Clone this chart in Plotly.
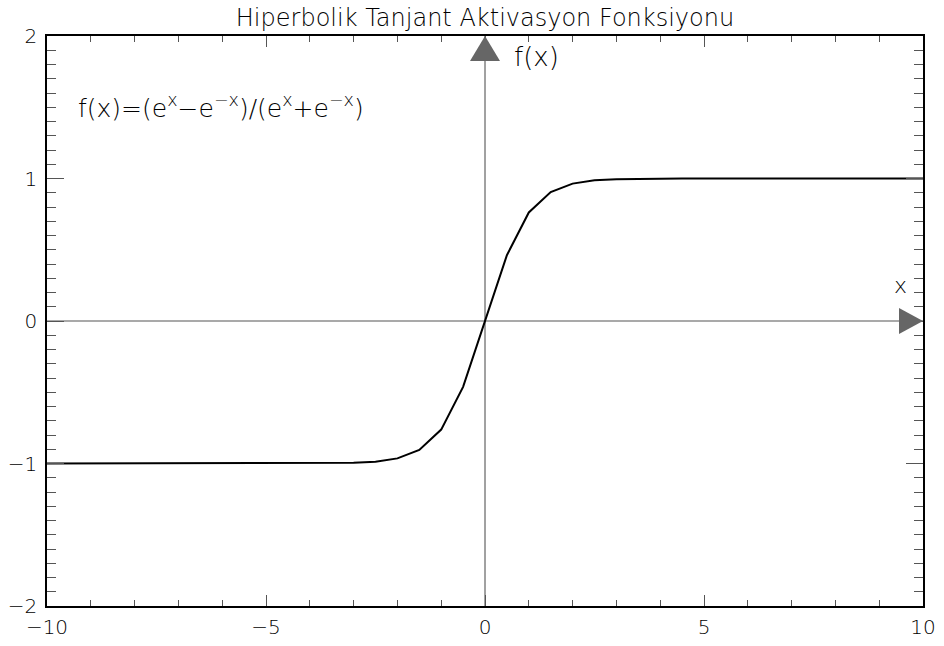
import plotly.graph_objects as go

# Hyperbolic tangent sampled every 0.5 on [-10, 10]
x_vals = [-10.0, -9.5, -9.0, -8.5, -8.0, -7.5, -7.0, -6.5, -6.0, -5.5,
          -5.0, -4.5, -4.0, -3.5, -3.0, -2.5, -2.0, -1.5, -1.0, -0.5,
          0.0, 0.5, 1.0, 1.5, 2.0, 2.5, 3.0, 3.5, 4.0, 4.5,
          5.0, 5.5, 6.0, 6.5, 7.0, 7.5, 8.0, 8.5, 9.0, 9.5, 10.0]
y_vals = [-1.0, -1.0, -1.0, -1.0, -1.0, -1.0, -1.0, -1.0, -1.0, -1.0,
          -1.0, -1.0, -0.999, -0.998, -0.995, -0.987, -0.964, -0.905, -0.762, -0.462,
          0.0, 0.462, 0.762, 0.905, 0.964, 0.987, 0.995, 0.998, 0.999, 1.0,
          1.0, 1.0, 1.0, 1.0, 1.0, 1.0, 1.0, 1.0, 1.0, 1.0, 1.0]

x_ticks = [-10, -5, 0, 5, 10]
y_ticks = [-2, -1, 0, 1, 2]

title_text = "Hiperbolik Tanjant Aktivasyon Fonksiyonu"
formula_text = "f(x)=(e<sup>x</sup>\u2212e<sup>\u2212x</sup>)/(e<sup>x</sup>+e<sup>\u2212x</sup>)"
y_label = "f(x)"
x_label = "x"

FONT = "DejaVu Sans"
WEIGHT = 200
ARROW = "#666666"
TICK = "#555555"

fig = go.Figure()
fig.add_trace(go.Scatter(x=x_vals, y=y_vals, mode="lines",
                         line=dict(color="black", width=2), showlegend=False))

# coordinate axes through the origin
fig.add_shape(type="line", x0=0, x1=0, y0=-2, y1=2, xref="x", yref="y",
              line=dict(color="#444444", width=1), layer="below")
fig.add_shape(type="line", x0=-10, x1=10, y0=0, y1=0, xref="x", yref="y",
              line=dict(color="#555555", width=1.2), layer="below")

# arrow heads at the ends of the axes
fig.add_shape(type="path", xref="x", yref="y", xsizemode="pixel", ysizemode="pixel",
              xanchor=0, yanchor=2, path="M -15 -25 L 15 -25 L 0 0 Z",
              fillcolor=ARROW, line=dict(width=0))
fig.add_shape(type="path", xref="x", yref="y", xsizemode="pixel", ysizemode="pixel",
              xanchor=10, yanchor=0, path="M -24 -13 L -24 13 L 0 0 Z",
              fillcolor=ARROW, line=dict(width=0))

fig.add_annotation(x=0.033, y=0.876, xref="paper", yref="paper", text=formula_text,
                   showarrow=False, xanchor="left", yanchor="middle",
                   font=dict(family=FONT, size=25, color="black", weight=WEIGHT))
fig.add_annotation(x=0.62, y=1.85, xref="x", yref="y", text=y_label, showarrow=False,
                   xanchor="left", yanchor="middle",
                   font=dict(family=FONT, size=26, color="black", weight=WEIGHT))
fig.add_annotation(x=9.49, y=0.25, xref="x", yref="y", text=x_label, showarrow=False,
                   xanchor="center", yanchor="middle",
                   font=dict(family=FONT, size=22, color="black", weight=WEIGHT))

fig.update_layout(
    width=944, height=646,
    margin=dict(l=47, r=21, t=36, b=40),
    paper_bgcolor="white", plot_bgcolor="white",
    title=dict(text=title_text, x=0.5, xref="paper", y=0.973, yanchor="middle",
               automargin=False,
               font=dict(family=FONT, size=24, color="black", weight=WEIGHT)),
    font=dict(family=FONT, size=20, color="black", weight=WEIGHT),
)
fig.update_xaxes(range=[-10, 10], tickvals=x_ticks, ticks="inside", ticklen=11,
                 tickwidth=1, tickcolor=TICK, showgrid=False, zeroline=False,
                 showline=True, linecolor="black", linewidth=1.5, mirror="allticks",
                 ticklabelstandoff=2, automargin=False,
                 minor=dict(dtick=1, ticks="inside", ticklen=6, tickcolor=TICK,
                            showgrid=False),
                 tickfont=dict(family=FONT, size=20, color="black", weight=WEIGHT))
fig.update_yaxes(range=[-2, 2], tickvals=y_ticks, ticks="inside", ticklen=17,
                 tickwidth=1, tickcolor=TICK, showgrid=False, zeroline=False,
                 showline=True, linecolor="black", linewidth=1.5, mirror="allticks",
                 ticklabelstandoff=4, automargin=False,
                 minor=dict(dtick=0.1, ticks="inside", ticklen=9, tickcolor=TICK,
                            showgrid=False),
                 tickfont=dict(family=FONT, size=20, color="black", weight=WEIGHT))

fig.write_html("out.html")
